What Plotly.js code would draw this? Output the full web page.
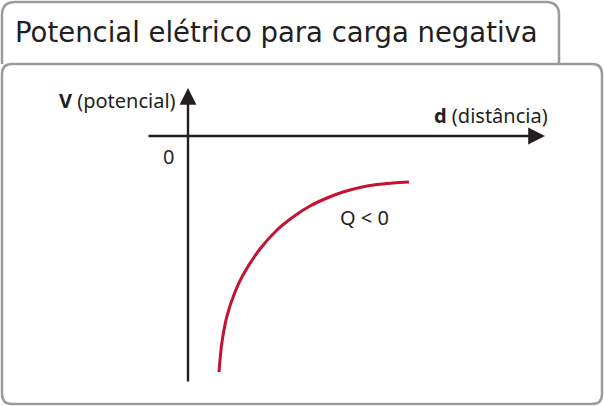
<!DOCTYPE html>
<html>
<head>
<meta charset="utf-8">
<script src="https://cdn.plot.ly/plotly-3.0.1.min.js"></script>
<style>
  html, body { margin: 0; padding: 0; background: #ffffff; }
  #chart { width: 604px; height: 406px; }
</style>
</head>
<body>
<div id="chart"></div>
<script>
// curve (distance, potential), arbitrary units
const distance = [31, 34, 39, 47, 55, 72, 89, 105, 122, 139, 155, 172, 189, 205, 221];
const potential = [-236, -206, -180, -156, -139, -113, -94, -81, -70, -62, -56, -51.5, -48.5, -47, -46];

const TITLE = "Potencial elétrico para carga negativa";
const V_LABEL = "<b>V</b> (potencial)";
const D_LABEL = "<b>d</b> (distância)";
const ZERO_LABEL = "0";
const CURVE_LABEL = "Q &lt; 0";

const INK = "#231f20";
const RED = "#c4122f";
const FRAME = "#9b9b9b";
const BODY_FONT = "\"Noto Sans\", \"Open Sans\", sans-serif";
const TITLE_FONT = "\"DejaVu Sans\", sans-serif";

// origin of the axes inside the 604x406 canvas
const X0 = 188;
const Y0 = 136;
const px = (x) => x - X0;
const py = (y) => Y0 - y;

function pathFrom(points) {
  return points.map(([cmd, ...xy]) => {
    const parts = [];
    for (let i = 0; i < xy.length; i += 2) {
      parts.push(px(xy[i]) + "," + py(xy[i + 1]));
    }
    return cmd + parts.join(" ");
  }).join(" ");
}

function roundedBox(x1, y1, x2, y2, r) {
  return pathFrom([
    ["M", x1 + r, y1], ["L", x2 - r, y1], ["Q", x2, y1, x2, y1 + r],
    ["L", x2, y2 - r], ["Q", x2, y2, x2 - r, y2],
    ["L", x1 + r, y2], ["Q", x1, y2, x1, y2 - r],
    ["L", x1, y1 + r], ["Q", x1, y1, x1 + r, y1],
  ]) + " Z";
}

function tab(x1, y1, x2, y2, r) {
  return pathFrom([
    ["M", x1, y2], ["L", x1, y1 + r], ["Q", x1, y1, x1 + r, y1],
    ["L", x2 - r, y1], ["Q", x2, y1, x2, y1 + r], ["L", x2, y2],
  ]);
}

function arrow(x1, y1, x2, y2) {
  return {
    xref: "x", yref: "y", axref: "x", ayref: "y",
    x: px(x2), y: py(y2), ax: px(x1), ay: py(y1),
    text: "", showarrow: true,
    arrowhead: 2, arrowsize: 1.4, arrowwidth: 2.4, arrowcolor: INK,
    standoff: 0, startstandoff: 0,
  };
}

function label(text, x, y, size, font, xanchor, weight) {
  return {
    xref: "x", yref: "y", x: px(x), y: py(y),
    text, showarrow: false,
    xanchor: xanchor || "center", yanchor: "middle",
    font: { family: font || BODY_FONT, size, color: INK, weight: weight || "normal" },
  };
}

const curve = {
  type: "scatter",
  mode: "lines",
  x: distance,
  y: potential,
  line: { color: RED, width: 3, shape: "spline", smoothing: 1 },
  hoverinfo: "skip",
};

const layout = {
  width: 604,
  height: 406,
  margin: { l: 0, r: 0, t: 0, b: 0 },
  paper_bgcolor: "#ffffff",
  plot_bgcolor: "#ffffff",
  showlegend: false,
  xaxis: { range: [px(0), px(604)], visible: false, fixedrange: true },
  yaxis: { range: [py(406), py(0)], visible: false, fixedrange: true },
  shapes: [
    { type: "path", xref: "x", yref: "y", path: tab(2, 2, 559, 64, 13),
      line: { color: FRAME, width: 2.5 }, layer: "below" },
    { type: "path", xref: "x", yref: "y", path: roundedBox(2, 64, 602, 404, 10),
      line: { color: FRAME, width: 2.5 }, layer: "below" },
  ],
  annotations: [
    label(TITLE, 13, 32, 27.5, TITLE_FONT, "left"),
    arrow(147, 136, 545, 136),
    arrow(188, 383, 188, 88),
    label(V_LABEL, 117, 100, 20),
    label(D_LABEL, 491, 115, 20),
    label(ZERO_LABEL, 168, 156, 20),
    label(CURVE_LABEL, 364, 217, 20),
  ],
};

Plotly.newPlot("chart", [curve], layout, { staticPlot: true, displayModeBar: false });
</script>
</body>
</html>
